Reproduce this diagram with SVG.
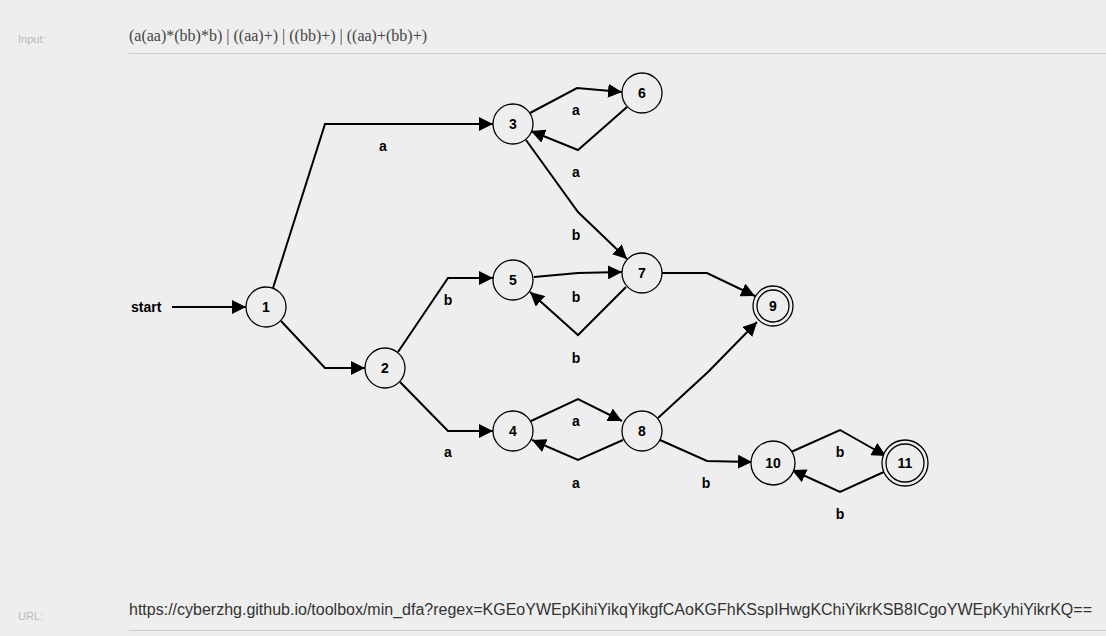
<svg xmlns="http://www.w3.org/2000/svg" width="1106" height="636" viewBox="0 0 1106 636">
<defs>
<marker id="ah" viewBox="0 0 10 10" refX="10" refY="5" markerWidth="14" markerHeight="14" markerUnits="userSpaceOnUse" orient="auto">
<path d="M0,0 L10,5 L0,10 z" fill="#000"/>
</marker>
</defs>
<style>
.lbl{font-family:"Liberation Sans",Arial,sans-serif;font-size:11px;fill:#bbb}
.inp{font-family:"Liberation Serif","Times New Roman",serif;font-size:16px;fill:#444}
.url{font-family:"Liberation Sans",Arial,sans-serif;font-size:16px;fill:#333}
.rule{stroke:#ccc;stroke-width:1}
.st{fill:#eee;stroke:#000;stroke-width:1.3}
.nt{font-family:"Liberation Sans",Arial,sans-serif;font-size:14px;font-weight:bold;fill:#000;text-anchor:middle}
.e{fill:none;stroke:#000;stroke-width:2;marker-end:url(#ah)}
.el{font-family:"Liberation Sans",Arial,sans-serif;font-size:14px;font-weight:bold;fill:#000;text-anchor:middle}
</style>
<rect width="1106" height="636" fill="#eeeeee"/>
<text class="lbl" x="18" y="43">Input:</text>
<text class="inp" x="129" y="41">(a(aa)*(bb)*b) | ((aa)+) | ((bb)+) | ((aa)+(bb)+)</text>
<line class="rule" x1="129" y1="53.5" x2="1106" y2="53.5"/>
<text class="lbl" x="18" y="620">URL:</text>
<text class="url" x="129" y="615">https://cyberzhg.github.io/toolbox/min_dfa?regex=KGEoYWEpKihiYikqYikgfCAoKGFhKSspIHwgKChiYikrKSB8ICgoYWEpKyhiYikrKQ==</text>
<line class="rule" x1="129" y1="630.5" x2="1106" y2="630.5"/>

<g id="connectors">
<path class="e" d="M172,307 L246,307"/>
<path class="e" d="M273,288 L325,124 L493,124"/>
<path class="e" d="M281,321 L325,368 L365,368"/>
<path class="e" d="M530,113 L577,88 L622,92"/>
<path class="e" d="M627,107 L578,150 L531,131"/>
<path class="e" d="M526,140 L578,212 L627,259"/>
<path class="e" d="M398,352 L448,278 L493,278"/>
<path class="e" d="M534,277 L578,273 L622,272"/>
<path class="e" d="M626,287 L578,335 L530,292"/>
<path class="e" d="M662,273 L707,273 L755,296"/>
<path class="e" d="M400,382 L448,431 L493,431"/>
<path class="e" d="M531,421 L578,399 L622,421"/>
<path class="e" d="M623,440 L578,460 L532,440"/>
<path class="e" d="M658,418 L708,372 L757,322"/>
<path class="e" d="M660,440 L707,461 L752,462"/>
<path class="e" d="M791,452 L840,430 L886,456"/>
<path class="e" d="M886,471 L840,492 L792,470"/>
<text class="el" x="131" y="312" style="text-anchor:start">start</text>
<text class="el" x="383" y="151">a</text>
<text class="el" x="576" y="115">a</text>
<text class="el" x="576" y="177">a</text>
<text class="el" x="576" y="240">b</text>
<text class="el" x="448" y="305">b</text>
<text class="el" x="576" y="302">b</text>
<text class="el" x="576" y="363">b</text>
<text class="el" x="448" y="457">a</text>
<text class="el" x="576" y="426">a</text>
<text class="el" x="576" y="488">a</text>
<text class="el" x="706" y="488">b</text>
<text class="el" x="840" y="457">b</text>
<text class="el" x="840" y="519">b</text>
</g>

<g id="n1"><circle class="st" cx="266" cy="307" r="20"/><text class="nt" x="266" y="312">1</text></g>
<g id="n2"><circle class="st" cx="385" cy="368" r="20"/><text class="nt" x="385" y="373">2</text></g>
<g id="n3"><circle class="st" cx="513" cy="124" r="20"/><text class="nt" x="513" y="129">3</text></g>
<g id="n6"><circle class="st" cx="642" cy="93" r="20"/><text class="nt" x="642" y="98">6</text></g>
<g id="n5"><circle class="st" cx="513" cy="280" r="20"/><text class="nt" x="513" y="285">5</text></g>
<g id="n7"><circle class="st" cx="642" cy="273" r="20"/><text class="nt" x="642" y="278">7</text></g>
<g id="n9"><circle class="st" cx="773" cy="306" r="20"/><circle class="st" cx="773" cy="306" r="16"/><text class="nt" x="773" y="311">9</text></g>
<g id="n4"><circle class="st" cx="513" cy="431" r="20"/><text class="nt" x="513" y="436">4</text></g>
<g id="n8"><circle class="st" cx="642" cy="431" r="20"/><text class="nt" x="642" y="436">8</text></g>
<g id="n10"><circle class="st" cx="773" cy="463" r="22"/><text class="nt" x="773" y="468">10</text></g>
<g id="n11"><circle class="st" cx="905" cy="463" r="23"/><circle class="st" cx="905" cy="463" r="19"/><text class="nt" x="905" y="468">11</text></g>
</svg>
